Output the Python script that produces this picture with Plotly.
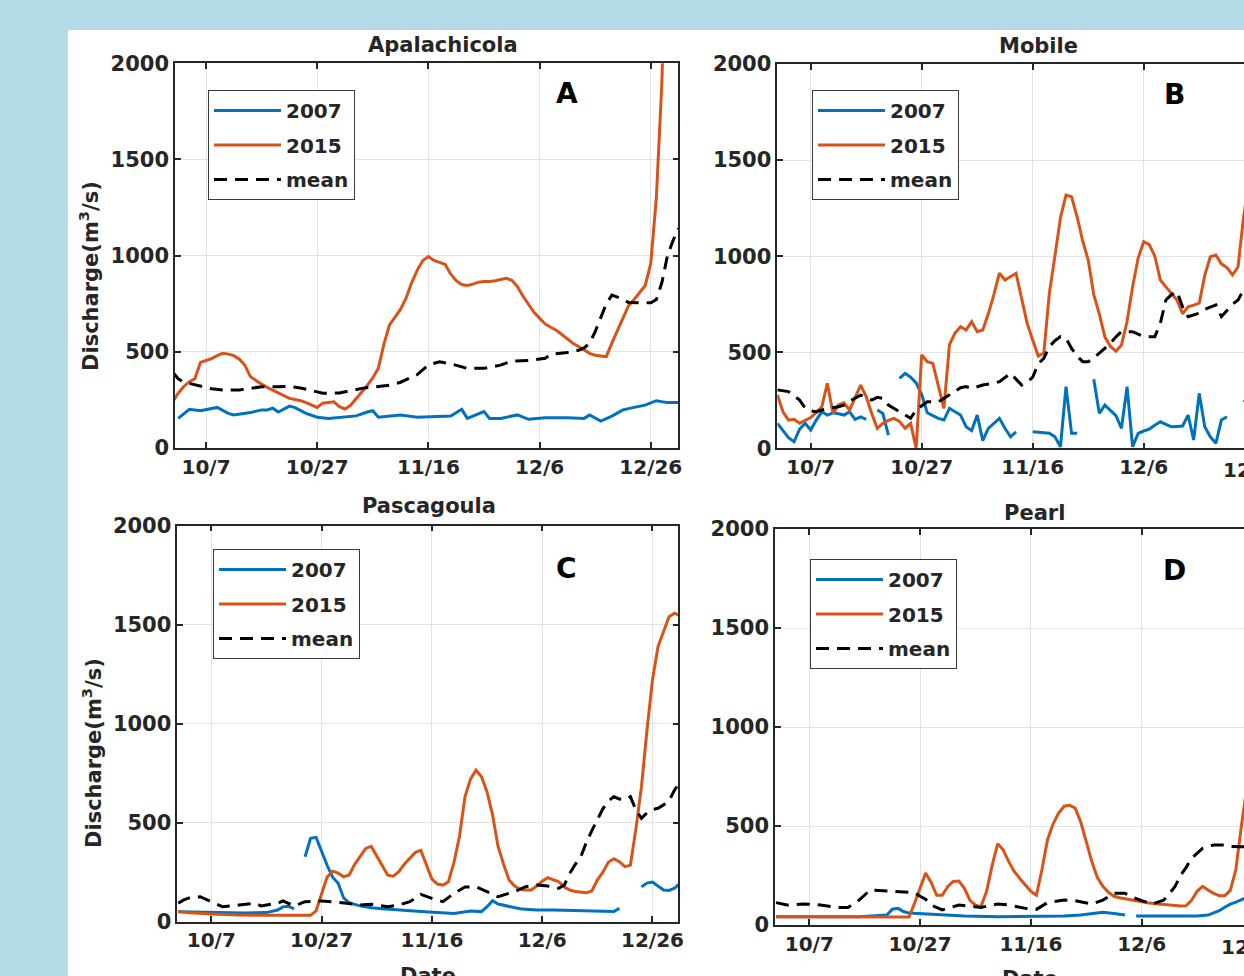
import numpy as np
import pandas as pd
import plotly.graph_objects as go

W, H = 1244, 976
BASE = pd.Timestamp("2015-10-01")
FONT = "DejaVu Sans, Verdana, sans-serif"
TXT = "#262626"
C07, C15, CMEAN = "#0072BD", "#D95319", "#000000"

# ---------------- axis labels ----------------
tick_days = [6, 26, 46, 66, 86]
tick_text = ["10/7", "10/27", "11/16", "12/6", "12/26"]
y_ticks = [0, 500, 1000, 1500, 2000]
series_names = ["2007", "2015", "mean"]
rivers = ["Apalachicola", "Mobile", "Pascagoula", "Pearl"]
letters = ["A", "B", "C", "D"]
y_title = "Discharge(m<sup>3</sup>/s)"
x_title = "Date"
N = None

# ---------------- Apalachicola (days since Oct 1) ----------------
apa_2015_days = list(range(0, 90))
apa_2015 = [240, 285, 320, 345, 360, 445, 455, 465, 480, 492, 488, 480, 462, 430, 370, 350, 332, 315, 300, 285,
            272, 258, 252, 246, 236, 222, 211, 233, 238, 240, 215, 203, 222, 255, 290, 325, 365, 415, 540, 640,
            680, 722, 780, 860, 925, 975, 995, 975, 965, 955, 905, 870, 850, 845, 852, 862, 866, 866, 870, 876,
            882, 872, 840, 790, 750, 705, 675, 645, 628, 612, 590, 568, 545, 528, 510, 492, 482, 477, 475, 545,
            610, 680, 740, 772, 810, 845, 960, 1300, 1900, 3000]
apa_2007_days = [1, 3, 4, 5, 8, 10, 11, 14, 16, 17, 18, 19, 21, 22, 24, 26, 28, 31, 33, 35, 36, 37, 39, 41, 44,
                 46, 48, 50, 52, 53, 56, 57, 59, 62, 64, 67, 71, 74, 75, 77, 79, 81, 83, 85, 87, 89, 91]
apa_2007 = [154, 201, 198, 194, 211, 180, 172, 184, 198, 198, 207, 187, 218, 210, 180, 160, 154, 163, 167, 187,
            194, 160, 166, 172, 160, 163, 163, 166, 201, 154, 189, 154, 154, 172, 149, 157, 157, 154, 172, 140,
            166, 198, 211, 223, 246, 236, 237]
apa_mean_days = [0, 1, 2, 4, 7, 9, 12, 14, 16, 19, 21, 23, 25, 27, 30, 32, 34, 37, 39, 41, 44, 46, 48, 50, 53,
                 56, 59, 61, 64, 67, 68, 71, 73, 74, 75, 76, 78, 79, 80, 81, 82, 84, 86, 87, 88, 89, 90, 91]
apa_mean = [395, 360, 343, 330, 308, 301, 302, 310, 318, 319, 320, 312, 300, 285, 286, 298, 310, 320, 327, 342,
            382, 432, 448, 438, 414, 414, 431, 452, 455, 466, 488, 496, 508, 520, 545, 605, 750, 795, 785, 770,
            757, 755, 755, 772, 860, 1000, 1078, 1142]

# ---------------- Mobile ----------------
mob_2015_days = list(range(0, 86))
mob_2015 = [277, 190, 147, 151, 130, 147, 160, 185, 216, 338, 182, 225, 237, 199, 260, 329, 269, 180, 104, 130,
            145, 156, 140, 104, 130, 0, 486, 451, 442, 330, 208, 540, 600, 633, 616, 659, 607, 616, 700, 800,
            911, 876, 895, 911, 780, 650, 564, 480, 494, 807, 1000, 1200, 1318, 1309, 1205, 1080, 980, 800, 700, 580,
            530, 505, 538, 660, 841, 990, 1075, 1060, 1000, 876, 840, 807, 772, 700, 737, 745, 755, 900, 997, 1006,
            960, 940, 902, 945, 1205, 1400]
mob_2007_days = list(range(0, 86))
mob_2007 = [130, 90, 55, 34, 100, 130, 95, 147, 190, 173, 185, 180, 173, 190, 151, 164, 151, N, 199, 181,
            69, N, 364, 390, 370, 340, 280, 185, 170, 156, 147, 208, 190, 173, 112, 92, 173, 40, 104, 130,
            156, 104, 60, 86, N, N, 86, 84, 80, 78, 60, 8, 321, 78, 78, N, N, 359, 182, 225,
            200, 170, 104, 321, 8, 78, 90, 100, 120, 138, 125, 112, 114, 116, 173, 43, 286, 112, 60, 26,
            147, 164, N, N, 251, 230]
mob_mean_days = [0, 2, 4, 5, 6, 7, 9, 11, 12, 13, 15, 16, 17, 18, 19, 20, 22, 24, 25, 27, 29, 30, 31, 33, 34,
                 35, 37, 39, 40, 42, 43, 44, 45, 46, 47, 48, 49, 50, 51, 52, 53, 54, 55, 56, 57, 58, 60, 61, 62,
                 64, 66, 68, 69, 70, 71, 72, 73, 74, 76, 77, 78, 79, 80, 81, 82, 83, 84, 85]
mob_mean = [304, 295, 251, 210, 195, 190, 208, 216, 225, 245, 277, 265, 251, 265, 260, 225, 190, 156, 200, 242,
            242, 260, 280, 315, 321, 312, 329, 338, 347, 390, 360, 329, 345, 370, 440, 468, 529, 560, 581, 573,
            520, 480, 451, 451, 470, 494, 546, 580, 607, 607, 581, 581, 651, 772, 800, 815, 737, 685, 703, 723,
            735, 746, 685, 720, 750, 772, 824, 850]

# ---------------- Pascagoula ----------------
pas_2015_days = [0, 2, 6, 11, 17, 23] + list(range(24, 92))
pas_2015 = [51, 45, 39, 34, 32, 29, 32, 55, 143, 225, 255, 245, 227, 236, 290, 330, 370, 380, 330, 280,
            235, 230, 253, 290, 320, 350, 360, 290, 215, 190, 185, 202, 300, 430, 631, 720, 766, 732, 655, 540,
            380, 290, 211, 180, 164, 160, 160, 180, 205, 222, 212, 202, 175, 160, 152, 148, 146, 155, 210, 250,
            300, 318, 303, 278, 286, 470, 682, 968, 1221, 1389, 1465, 1540, 1558, 1545]
pas_2007_days = [0, 4, 8, 12, 16, 18, 19, 20, 21, 22, 23, 24, 25, 26, 27, 28, 29, 30, 31, 33, 35, 37, 39, 41,
                 44, 47, 50, 53, 55, 56, 57, 58, 60, 62, 63, 65, 68, 71, 74, 77, 79, 80, 81, 84, 85, 86, 87,
                 88, 89, 90, 91]
pas_2007 = [50, 47, 45, 44, 46, 59, 75, 78, 65, N, 328, 421, 426, 350, 285, 225, 194, 120, 95, 80, 70, 65, 60, 57,
            51, 46, 42, 54, 51, 76, 106, 89, 76, 65, 63, 59, 59, 56, 56, 51, 51, 68, N, 177, 195, 200, 180,
            160, 158, 169, 194]
pas_mean_days = [0, 1, 2, 4, 6, 8, 11, 14, 15, 18, 19, 21, 22, 23, 26, 28, 31, 33, 35, 38, 40, 42, 44, 46, 48,
                 50, 52, 54, 56, 58, 61, 63, 65, 67, 69, 70, 71, 72, 73, 74, 75, 76, 77, 78, 79, 80, 81, 82, 83,
                 84, 85, 86, 87, 88, 89, 90, 91]
pas_mean = [93, 110, 120, 126, 101, 76, 84, 93, 80, 93, 105, 80, 90, 101, 105, 101, 92, 84, 88, 76, 84, 101, 138,
            118, 101, 143, 175, 177, 152, 126, 152, 177, 185, 180, 169, 185, 244, 290, 328, 400, 460, 514, 570,
            610, 631, 620, 615, 631, 564, 522, 550, 566, 573, 590, 610, 665, 707]

# ---------------- Pearl ----------------
pea_2015_days = [0, 10, 20, 24] + list(range(25, 64)) + [65, 67, 69, 71, 73] + list(range(74, 86))
pea_2015 = [42, 42, 40, 40, 110, 190, 262, 215, 150, 150, 195, 220, 222, 185, 125, 100, 93, 170, 300, 410,
            380, 320, 270, 235, 200, 170, 150, 280, 430, 510, 565, 600, 605, 590, 520, 420, 320, 240, 195, 165,
            145, 138, 133, 125, 112, 106, 100, 96, 97, 125, 170, 195, 177, 160, 148, 148, 175, 280, 500, 700]
pea_2007_days = [0, 15, 20, 21, 22, 23, 24, 28, 34, 40, 46, 52, 55, 57, 59, 61, 63, 64, 65, 70, 76, 78, 80, 81,
                 82, 83, 84, 85]
pea_2007 = [42, 42, 50, 80, 84, 68, 60, 54, 45, 42, 42, 45, 50, 58, 64, 58, 51, N, 45, 45, 45, 50, 72, 90,
            105, 115, 126, 140]
pea_mean_days = [0, 2, 3, 5, 8, 11, 13, 15, 17, 19, 22, 25, 26, 27, 28, 30, 33, 35, 37, 40, 42, 45, 47, 49, 52,
                 54, 57, 59, 61, 63, 64, 66, 68, 70, 71, 72, 73, 74, 75, 77, 78, 79, 81, 82, 84, 85]
pea_mean = [113, 101, 103, 106, 101, 89, 89, 126, 177, 173, 168, 163, 145, 130, 101, 76, 101, 96, 89, 106, 101,
            84, 79, 113, 126, 123, 106, 126, 160, 160, 145, 123, 106, 126, 160, 193, 250, 290, 337, 387, 398,
            404, 404, 397, 395, 395]

panel_series = [
    [(apa_2007_days, apa_2007), (apa_2015_days, apa_2015), (apa_mean_days, apa_mean)],
    [(mob_2007_days, mob_2007), (mob_2015_days, mob_2015), (mob_mean_days, mob_mean)],
    [(pas_2007_days, pas_2007), (pas_2015_days, pas_2015), (pas_mean_days, pas_mean)],
    [(pea_2007_days, pea_2007), (pea_2015_days, pea_2015), (pea_mean_days, pea_mean)],
]

# ---------------- layout geometry (pixels) ----------------
geom = [
    dict(x0=175, x1=678.3, yt=63.3, yb=448, r0=0.42, r1=90.95, cut=False, leg=(208, 90),
         title=(443, 45), let=(567, 93), ytl=(89, 276)),
    dict(x0=777.3, x1=1244, yt=64, yb=448.3, r0=-0.02, r1=84.07, cut=True, leg=(812, 90),
         title=(1038, 46), let=(1174, 94)),
    dict(x0=177.3, x1=678.3, yt=525.7, yb=921.7, r0=-0.165, r1=90.68, cut=False, leg=(213, 549),
         title=(429, 506), let=(566, 568), ytl=(92, 753), xtl=(428, 962)),
    dict(x0=775, x1=1244, yt=529, yb=925, r0=-0.19, r1=84.47, cut=True, leg=(810, 559),
         title=(1034, 513), let=(1174, 570), xtl=(1030, 965)),
]


def fx(p):
    return p / W


def fy(p):
    return 1 - p / H


def to_dates(days):
    return [BASE + pd.Timedelta(days=float(d)) for d in days]


def bold(size, color=TXT):
    return dict(family=FONT, size=size, color=color, weight="bold")


fig = go.Figure()
colors = [C07, C15, CMEAN]
dashes = ["solid", "solid", "13px,8px"]
ticks_dates = to_dates(tick_days)

annotations = []
layout = dict(
    width=W, height=H,
    margin=dict(l=0, r=0, t=0, b=0),
    paper_bgcolor="#b2dbe6",
    plot_bgcolor="white",
    font=dict(family=FONT, color=TXT, size=21),
    showlegend=True,
)

for i, g in enumerate(geom):
    n = "" if i == 0 else str(i + 1)
    xa, ya = "x" + n, "y" + n
    leg = "legend" + n
    for j, (days, vals) in enumerate(panel_series[i]):
        fig.add_trace(go.Scatter(
            x=to_dates(days), y=vals, mode="lines", name=series_names[j],
            line=dict(color=colors[j], width=3, dash=dashes[j]),
            connectgaps=False, xaxis=xa, yaxis=ya, legend=leg,
            legendgroup=f"{i}-{j}", showlegend=True,
        ))
    layout["xaxis" + n] = dict(
        type="date", domain=[fx(g["x0"]), fx(g["x1"])], anchor=ya,
        range=[BASE + pd.Timedelta(days=g["r0"]), BASE + pd.Timedelta(days=g["r1"])],
        tickvals=ticks_dates, ticktext=tick_text, tickfont=bold(20),
        ticks="inside", ticklen=6, tickwidth=1.5, tickcolor=TXT,
        showline=True, linecolor=TXT, linewidth=1.5, mirror="allticks",
        showgrid=True, gridcolor="#e3e3e3", gridwidth=1, zeroline=False,
        automargin=False,
    )
    layout["yaxis" + n] = dict(
        domain=[fy(g["yb"]), fy(g["yt"])], anchor=xa, range=[0, 2000],
        tickvals=y_ticks, tickfont=bold(21),
        ticks="inside", ticklen=6, tickwidth=1.5, tickcolor=TXT,
        showline=True, linecolor=TXT, linewidth=1.5,
        mirror=False if g["cut"] else "allticks",
        showgrid=True, gridcolor="#e3e3e3", gridwidth=1, zeroline=False,
        automargin=False,
    )
    layout[leg] = dict(
        x=fx(g["leg"][0]), y=fy(g["leg"][1]), xanchor="left", yanchor="top",
        bgcolor="white", bordercolor="#3a3a3a", borderwidth=1,
        font=bold(20), itemwidth=67,
        tracegroupgap=5.5, traceorder="grouped",
    )
    annotations.append(dict(text=rivers[i], x=fx(g["title"][0]), y=fy(g["title"][1]), xref="paper", yref="paper",
                            showarrow=False, xanchor="center", yanchor="middle", font=bold(21)))
    annotations.append(dict(text=letters[i], x=fx(g["let"][0]), y=fy(g["let"][1]), xref="paper", yref="paper",
                            showarrow=False, xanchor="center", yanchor="middle", font=bold(28, "#000000")))
    if "ytl" in g:
        annotations.append(dict(text=y_title, x=fx(g["ytl"][0]), y=fy(g["ytl"][1]), xref="paper", yref="paper",
                                showarrow=False, xanchor="center", yanchor="middle", textangle=-90,
                                font=bold(21)))
    if "xtl" in g:
        annotations.append(dict(text=x_title, x=fx(g["xtl"][0]), y=fy(g["xtl"][1]), xref="paper", yref="paper",
                                showarrow=False, xanchor="center", yanchor="top", font=bold(21)))

# tick label 12/26 of the cropped panels (falls on the cut edge)
for g, tx in ((geom[1], 1254.7), (geom[3], 1252.5)):
    annotations.append(dict(text=tick_text[-1], x=fx(tx), y=fy(g["yb"] + 8), xref="paper", yref="paper",
                            showarrow=False, xanchor="center", yanchor="top", font=bold(20)))

layout["annotations"] = annotations
layout["shapes"] = [dict(type="rect", xref="paper", yref="paper", x0=fx(68), x1=1.05, y0=-0.05, y1=fy(30),
                         fillcolor="white", line=dict(width=0), layer="below")]

fig.update_layout(**layout)
fig.write_html("out.html")
